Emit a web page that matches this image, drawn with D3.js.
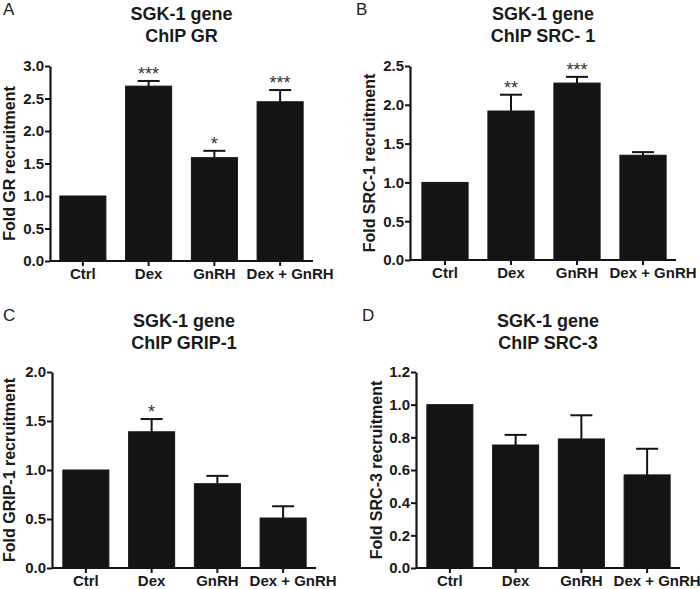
<!DOCTYPE html>
<html><head><meta charset="utf-8">
<script src="https://cdn.jsdelivr.net/npm/d3@7"></script>
<style>
html,body{margin:0;padding:0;background:#fff;}
svg text{font-family:"Liberation Sans",Arial,Helvetica,sans-serif;}
</style></head>
<body><svg id="c" width="700" height="589"></svg>
<script>
const categories = ["Ctrl", "Dex", "GnRH", "Dex + GnRH"];

const grMean = [1.0, 2.69, 1.59, 2.45];
const grErr = [0, 0.08, 0.105, 0.18];
const grStars = ["", "***", "*", "***"];
const grTicks = [0, 0.5, 1.0, 1.5, 2.0, 2.5, 3.0];

const src1Mean = [1.0, 1.92, 2.28, 1.35];
const src1Err = [0, 0.21, 0.08, 0.04];
const src1Stars = ["", "**", "***", ""];
const src1Ticks = [0, 0.5, 1.0, 1.5, 2.0, 2.5];

const grip1Mean = [1.0, 1.39, 0.86, 0.51];
const grip1Err = [0, 0.13, 0.08, 0.12];
const grip1Stars = ["", "*", "", ""];
const grip1Ticks = [0, 0.5, 1.0, 1.5, 2.0];

const src3Mean = [1.0, 0.753, 0.79, 0.57];
const src3Err = [0, 0.062, 0.145, 0.16];
const src3Stars = ["", "", "", ""];
const src3Ticks = [0, 0.2, 0.4, 0.6, 0.8, 1.0, 1.2];

const panels = [
  {letter:"A", title:["SGK-1 gene","ChIP GR"], ylabel:"Fold GR recruitment",
   mean:grMean, err:grErr, stars:grStars, ticks:grTicks,
   axisX:50, x0:50, x1:313, yTop:66, yBot:261, letterX:3, letterY:15, ylabX:15, titleY:20},
  {letter:"B", title:["SGK-1 gene","ChIP SRC- 1"], ylabel:"Fold SRC-1 recruitment",
   mean:src1Mean, err:src1Err, stars:src1Stars, ticks:src1Ticks,
   axisX:410, x0:412, x1:676, yTop:66, yBot:260, letterX:356, letterY:15, ylabX:375, titleY:20},
  {letter:"C", title:["SGK-1 gene","ChIP GRIP-1"], ylabel:"Fold GRIP-1 recruitment",
   mean:grip1Mean, err:grip1Err, stars:grip1Stars, ticks:grip1Ticks,
   axisX:52, x0:53, x1:316, yTop:372, yBot:568, letterX:3, letterY:321, ylabX:15, titleY:327},
  {letter:"D", title:["SGK-1 gene","ChIP SRC-3"], ylabel:"Fold SRC-3 recruitment",
   mean:src3Mean, err:src3Err, stars:src3Stars, ticks:src3Ticks,
   axisX:416, x0:417, x1:680, yTop:372, yBot:568, letterX:362, letterY:321, ylabX:382, titleY:327}
];

const svg = d3.select("#c");
const ink = "#141414";

panels.forEach(p => {
  const g = svg.append("g");
  const x = d3.scaleBand().domain(categories).range([p.x0, p.x1]).paddingInner(0.3).paddingOuter(0.15);
  const ymax = p.ticks[p.ticks.length - 1];
  const y = d3.scaleLinear().domain([0, ymax]).range([p.yBot, p.yTop]);

  // panel letter
  g.append("text").attr("x", p.letterX).attr("y", p.letterY)
    .attr("font-size", 17).attr("fill", "#222").text(p.letter);

  // title
  const cx = (p.axisX + p.x1) / 2;
  p.title.forEach((t, i) => {
    g.append("text").attr("x", cx).attr("y", p.titleY + i * 22)
      .attr("text-anchor", "middle").attr("font-size", 18).attr("font-weight", "bold")
      .attr("fill", "#1a1a1a").text(t);
  });

  // bars
  const bw = x.bandwidth();
  g.selectAll("rect.bar").data(categories).enter().append("rect")
    .attr("x", d => x(d)).attr("width", bw)
    .attr("y", (d, i) => y(p.mean[i])).attr("height", (d, i) => y(0) - y(p.mean[i]))
    .attr("fill", ink).attr("stroke", ink).attr("stroke-width", 1);

  // error bars (upper only)
  categories.forEach((c, i) => {
    if (p.err[i] > 0) {
      const mx = x(c) + bw / 2;
      g.append("line").attr("x1", mx).attr("x2", mx)
        .attr("y1", y(p.mean[i])).attr("y2", y(p.mean[i] + p.err[i]))
        .attr("stroke", ink).attr("stroke-width", 2);
      g.append("line").attr("x1", mx - 11).attr("x2", mx + 11)
        .attr("y1", y(p.mean[i] + p.err[i])).attr("y2", y(p.mean[i] + p.err[i]))
        .attr("stroke", ink).attr("stroke-width", 2);
    }
    if (p.stars[i]) {
      g.append("text").attr("x", x(c) + bw / 2).attr("y", y(p.mean[i] + p.err[i]) - 1)
        .attr("text-anchor", "middle").attr("font-size", 18).attr("fill", "#333")
        .text(p.stars[i]);
    }
  });

  // y axis
  const yAxis = d3.axisLeft(y).tickValues(p.ticks).tickFormat(d3.format(".1f"))
    .tickSize(5).tickSizeOuter(0).tickPadding(1);
  const ya = g.append("g").attr("transform", `translate(${p.axisX},0)`).call(yAxis);
  ya.select(".domain").attr("stroke", ink).attr("stroke-width", 2.2);
  ya.selectAll(".tick line").attr("stroke", ink).attr("stroke-width", 2);
  ya.selectAll(".tick text").attr("font-size", 15).attr("font-weight", "bold")
    .attr("fill", "#1a1a1a").style("font-family", '"Liberation Sans",Arial,sans-serif');

  // x axis
  const xAxis = d3.axisBottom(x).tickSize(5).tickSizeOuter(0).tickPadding(2);
  const xa = g.append("g").attr("transform", `translate(0,${p.yBot})`).call(xAxis);
  xa.select(".domain").attr("d", `M${p.axisX},0H${p.x1}`).attr("stroke", ink).attr("stroke-width", 2.2);
  xa.selectAll(".tick line").attr("stroke", ink).attr("stroke-width", 2);
  xa.selectAll(".tick text").attr("font-size", 15).attr("font-weight", "bold")
    .attr("fill", "#1a1a1a").style("font-family", '"Liberation Sans",Arial,sans-serif')
    .attr("dx", (d, i) => i === categories.length - 1 ? 10 : 0);

  // y label
  g.append("text")
    .attr("transform", `translate(${p.ylabX},${(p.yTop + p.yBot) / 2}) rotate(-90)`)
    .attr("text-anchor", "middle").attr("font-size", 16).attr("font-weight", "bold")
    .attr("fill", "#1a1a1a").text(p.ylabel);
});
</script></body></html>
